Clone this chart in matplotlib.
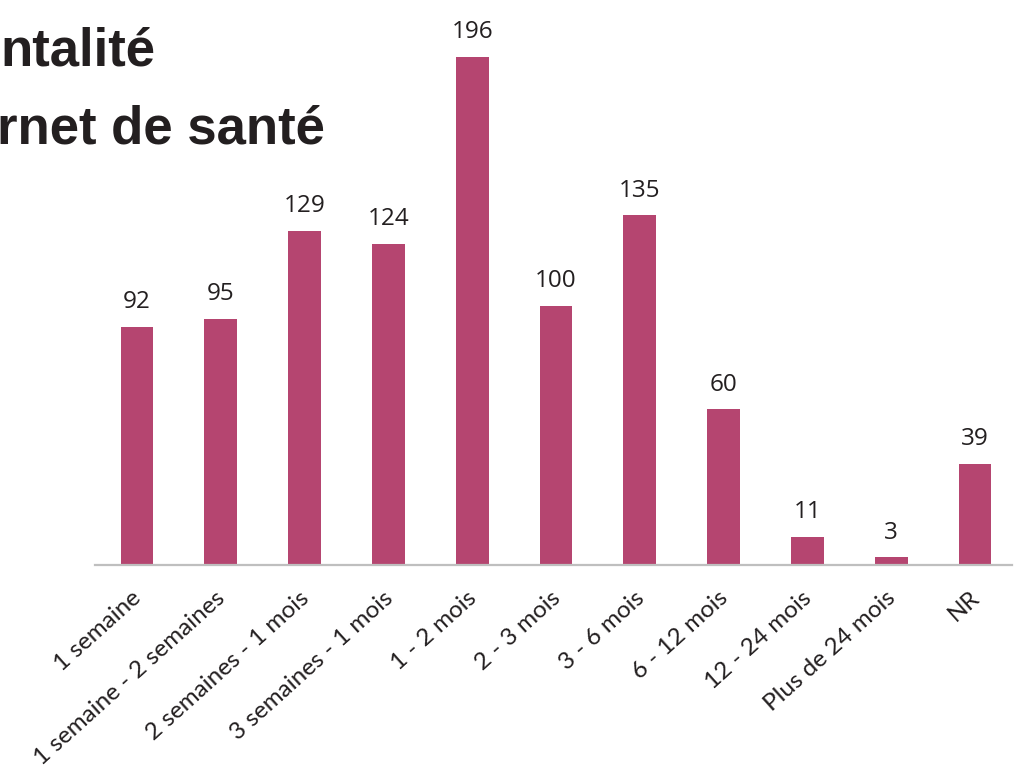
import numpy as np
import matplotlib.pyplot as plt
from matplotlib.transforms import ScaledTranslation

categories = ["1 semaine", "1 semaine - 2 semaines", "2 semaines - 1 mois",
              "3 semaines - 1 mois", "1 - 2 mois", "2 - 3 mois", "3 - 6 mois",
              "6 - 12 mois", "12 - 24 mois", "Plus de 24 mois", "NR"]
values = [92, 95, 129, 124, 196, 100, 135, 60, 11, 3, 39]
title_lines = ["ntalité", "rnet de santé"]

BAR_COLOR = "#B54570"
TEXT_COLOR = "#231F20"

fig = plt.figure(figsize=[10.28, 7.68], dpi=100)
ax = fig.add_axes([0.0924, 0.2643, 0.8920, 0.6615])

x = np.arange(len(categories))
ax.bar(x, values, width=0.39, color=BAR_COLOR)

# value labels above each bar
for xi, v in zip(x, values):
    ax.annotate(str(v), (xi, v), xytext=(0, 9), textcoords="offset points",
                ha="center", va="bottom", fontsize=17.5, family="Open Sans",
                color=TEXT_COLOR)

ax.set_xlim(-0.5, 10.44)
ax.set_ylim(0, 196)
ax.set_xticks(x)
ax.set_xticklabels(categories, rotation=42, ha="right", va="top",
                   rotation_mode="anchor", fontsize=17.5, family="Lato",
                   color=TEXT_COLOR)
ax.tick_params(axis="x", length=0, pad=16)
shift = ScaledTranslation(-4 / 72, 0, fig.dpi_scale_trans)
for lbl in ax.get_xticklabels():
    lbl.set_transform(lbl.get_transform() + shift)
ax.set_yticks([])
for side in ["left", "right", "top"]:
    ax.spines[side].set_visible(False)
ax.spines["bottom"].set_color("#BFBFBF")
ax.spines["bottom"].set_linewidth(1.6)

# title, cut off at the left edge like in the original slide
fig.text(0.0, 1 - 66 / 768, title_lines[0], ha="left", va="baseline",
         fontsize=38, fontweight="bold", family="Liberation Sans",
         color=TEXT_COLOR)
fig.text(-0.003, 1 - 143 / 768, title_lines[1], ha="left", va="baseline",
         fontsize=38, fontweight="bold", family="Liberation Sans",
         color=TEXT_COLOR)

fig.savefig("out.png", dpi=100)
